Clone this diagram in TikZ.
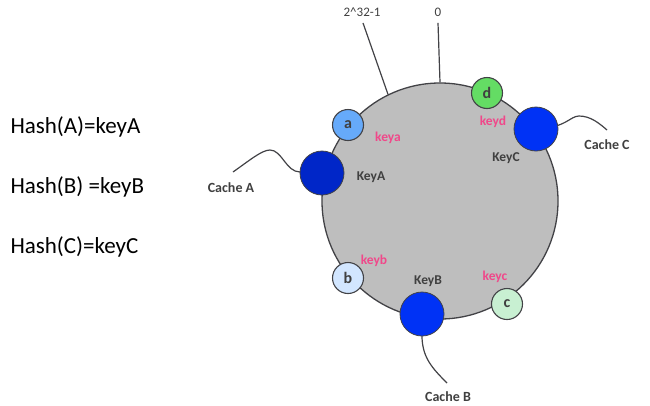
\documentclass[tikz,border=0pt]{standalone}
\usepackage{fontspec}
\setmainfont{Carlito}
\usetikzlibrary{positioning}
\definecolor{ringgray}{RGB}{190,190,190}
\definecolor{edgegray}{RGB}{66,66,70}
\definecolor{keypink}{RGB}{240,72,138}
\definecolor{labelgray}{RGB}{64,64,64}
\definecolor{servdark}{RGB}{0,38,200}
\definecolor{servblue}{RGB}{0,50,245}
\definecolor{slota}{RGB}{102,170,250}
\definecolor{slotb}{RGB}{210,230,255}
\definecolor{slotc}{RGB}{200,240,210}
\definecolor{slotd}{RGB}{100,220,100}

\tikzset{
  slot/.style={circle, draw=edgegray, line width=1.1pt, minimum size=31pt,
    inner sep=0pt, font=\fontsize{16}{16}\selectfont\bfseries, text=labelgray},
  server/.style={circle, draw=edgegray, line width=0.8pt, minimum size=44pt, inner sep=0pt},
  keytag/.style={font=\fontsize{13.5}{13.5}\selectfont\bfseries, text=keypink},
  servtag/.style={font=\fontsize{13.5}{13.5}\selectfont\bfseries, text=labelgray},
  cachetag/.style={font=\fontsize{14}{14}\selectfont\bfseries, text=labelgray},
  hashtag/.style={anchor=base west, font=\fontsize{23}{23}\selectfont, text=black},
  wire/.style={draw=edgegray, line width=1.2pt},
}

\begin{document}
\begin{tikzpicture}[x=1pt, y=-1pt]
  \useasboundingbox (0,0) rectangle (650,405);

  % hash ring
  \node[circle, fill=ringgray, draw=edgegray, line width=1.3pt, minimum size=236pt,
        inner sep=0pt] (ring) at (440,201) {};

  % ends of the range
  \node[font=\fontsize{13}{13}\selectfont, text=labelgray] (zero) at (438,12) {0};
  \node[font=\fontsize{13}{13}\selectfont, text=labelgray] (max) at (362,12) {2\textasciicircum32-1};
  \draw[wire] (zero.south) ++(0,3) -- (ring.north);
  \draw[wire] (max.south) ++(1,3) -- (ring.116);

  % hash formulas
  \node[hashtag] (hashA) at (7,133) {Hash(A)=keyA};
  \node[hashtag] (hashB) at (7,193) {Hash(B) =keyB};
  \node[hashtag] (hashC) at (7,253) {Hash(C)=keyC};

  % free ends of the cables
  \coordinate (endA) at (233,172);
  \coordinate (endB) at (447,383);
  \coordinate (endC) at (607,130);

  % cables to the caches
  \draw[wire] (endA) .. controls (250,160) and (262,150) .. (270,150)
              .. controls (282,150) and (286,172) .. (300,172);
  \draw[wire] (536,129) .. controls (566,128) and (570,116) .. (579,116)
              .. controls (591,116) and (600,124) .. (endC);
  \draw[wire] (422,314) -- (422,338) .. controls (423,358) and (432,368) .. (endB);

  % data keys
  \node[slot, fill=slota] (a) at (348,125) {a};
  \node[slot, fill=slotd] (d) at (487,93) {d};
  \node[slot, fill=slotb] (b) at (348,278) {b};
  \node[slot, fill=slotc] (c) at (507,304) {c};

  % cache servers
  \node[server, fill=servdark] (keyA) at (322,173) {};
  \node[server, fill=servblue] (keyC) at (536,129) {};
  \node[server, fill=servblue] (keyB) at (422,314) {};

  % labels on the ring
  \node[keytag] at (388,138) {keya};
  \node[keytag] at (493,122) {keyd};
  \node[keytag] at (374,261) {keyb};
  \node[keytag] at (495,277) {keyc};
  \node[servtag] at (371,177) {KeyA};
  \node[servtag] at (506,158) {KeyC};
  \node[servtag] at (428,281) {KeyB};

  % cache names
  \node[cachetag] (cacheA) at (231,188) {Cache A};
  \node[cachetag] (cacheC) at (607,145) {Cache C};
  \node[cachetag] (cacheB) at (448,397) {Cache B};
\end{tikzpicture}
\end{document}
